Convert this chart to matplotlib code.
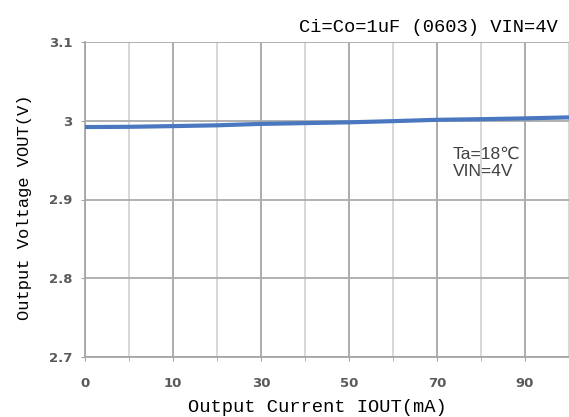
import numpy as np
import matplotlib
matplotlib.use("Agg")
import matplotlib.pyplot as plt

# load current categories (mA) and measured output voltage (V)
iout_cats = ["0", "5", "10", "20", "30", "40", "50", "60", "70", "80", "90", "100"]
vout = [2.9920, 2.9923, 2.9932, 2.9942, 2.9960, 2.9970, 2.9980, 2.9995, 3.0012, 3.0020, 3.0030, 3.0043]
yticks = [2.7, 2.8, 2.9, 3.0, 3.1]
ytick_labels = ["2.7", "2.8", "2.9", "3", "3.1"]

mono = "Liberation Mono"

fig = plt.figure(figsize=(5.69, 4.17), dpi=100)
ax = fig.add_axes([85 / 569, 60 / 417, 1 - 85 / 569, 315 / 417])

x = np.arange(len(iout_cats))
ax.plot(x, vout, color="#4a78c0", linewidth=3.0, solid_capstyle="butt", zorder=3)

ax.set_xlim(0, len(iout_cats) - 1)
ax.set_ylim(2.7, 3.1)

# labelled categories on major ticks, the rest on minor ticks
ax.set_xticks(x[::2])
ax.set_xticklabels(iout_cats[::2])
ax.set_xticks(x[1::2], minor=True)
ax.set_yticks(yticks)
ax.set_yticklabels(ytick_labels)
ax.grid(True, which="major", axis="y", color="#ababab", linewidth=1.3)
ax.grid(True, which="major", axis="x", color="#a6a6a6", linewidth=1.3)
ax.grid(True, which="minor", axis="x", color="#cdcdcd", linewidth=1.1)
ax.set_axisbelow(True)

for s in ["top", "right"]:
    ax.spines[s].set_visible(False)
for s in ["left", "bottom"]:
    ax.spines[s].set_color("#a6a6a6")
    ax.spines[s].set_linewidth(1.3)

ax.tick_params(axis="y", length=3, color="#a6a6a6", pad=6, labelsize=9.5, labelcolor="#5a5a5a")
ax.tick_params(axis="x", which="both", length=3, color="#a6a6a6", pad=11.5, labelsize=9.5,
               labelcolor="#5a5a5a")
for lbl in ax.get_xticklabels() + ax.get_yticklabels():
    lbl.set_fontweight("bold")

ax.set_xlabel("Output Current IOUT(mA)", family=mono, fontsize=13.5)
ax.xaxis.set_label_coords(232 / 484, -42 / 315)
ax.set_ylabel("Output Voltage VOUT(V)", family=mono, fontsize=12.3)
ax.yaxis.set_label_coords(-53 / 484, (357 - 207) / 315)

fig.text(558 / 569, 1 - 27 / 417, "Ci=Co=1uF (0603) VIN=4V", family=mono, fontsize=13.5,
         ha="right", va="center")
ax.text(8.36, 2.946, "Ta=18℃\nVIN=4V", fontsize=12.5, color="#404040",
        family=["Liberation Sans", "DejaVu Sans"], ha="left", va="center", linespacing=1.2)

fig.savefig("out.png", dpi=100)
